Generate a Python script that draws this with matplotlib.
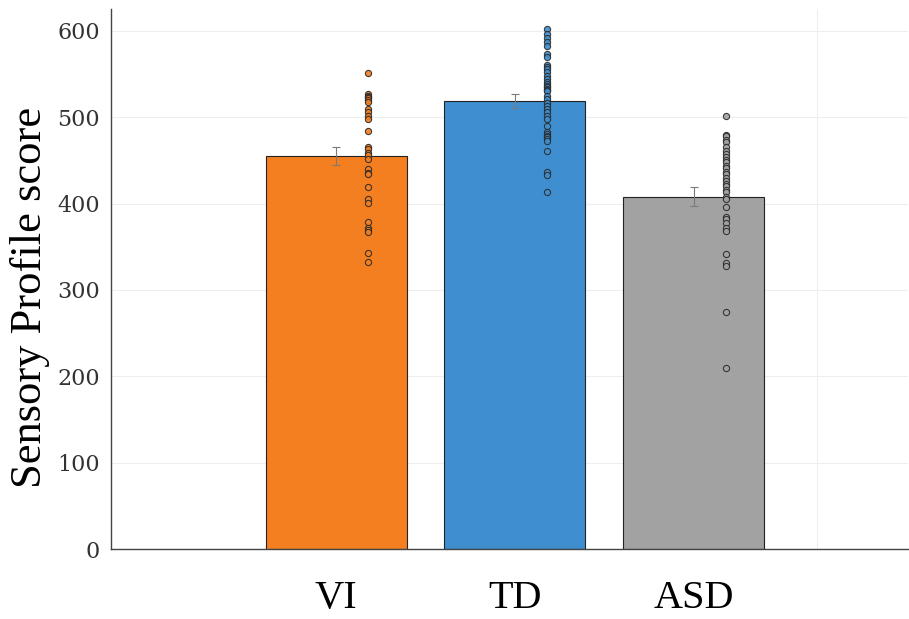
import numpy as np
import matplotlib
matplotlib.use('Agg')
from matplotlib import pyplot as plt

# Group names, bar means and standard errors.
GROUPS = ['VI', 'TD', 'ASD']
MEANS = [455, 519, 408]
SEMS = [10, 8, 11]
BAR_COLORS = ['#F47F20', '#3F8FD0', '#A2A2A2']

# Individual scores per group.
vi_scores = [551, 527, 525, 524, 522, 520, 518, 509, 506, 501, 498, 484,
             466, 463, 459, 456, 452, 440, 436, 434, 419, 405, 401, 379,
             372, 369, 367, 343, 332]
td_scores = [602, 596, 592, 587, 582, 573, 570, 561, 558, 556, 552, 548,
             544, 541, 538, 536, 535, 533, 531, 530, 525, 521, 517, 513,
             509, 506, 501, 498, 490, 483, 481, 478, 477, 475, 473, 461,
             437, 433, 414]
asd_scores = [501, 480, 478, 474, 471, 466, 461, 457, 454, 451, 448, 443,
              441, 437, 434, 430, 426, 423, 420, 416, 413, 408, 405, 396,
              385, 382, 378, 372, 368, 342, 331, 328, 275, 210]
ALL_SCORES = [vi_scores, td_scores, asd_scores]

plt.rcParams['font.family'] = ['Liberation Serif', 'DejaVu Serif']

fig = plt.figure(figsize=(9.09, 6.19), dpi=100)
ax = fig.add_axes([0.122, 0.113, 0.877, 0.872])

x_pos = np.arange(1, len(GROUPS) + 1)

ax.bar(x_pos, MEANS, width=0.79, color=BAR_COLORS, edgecolor='#222222',
       linewidth=0.8, zorder=2)
ax.errorbar(x_pos, MEANS, yerr=SEMS, fmt='none', ecolor='#7a7a7a',
            elinewidth=0.8, capsize=3, capthick=0.8, zorder=3)

for xp, scores, col in zip(x_pos, ALL_SCORES, BAR_COLORS):
    ax.scatter(np.full(len(scores), xp + 0.18), scores, s=20, color=col,
               edgecolor='#2a2a2a', linewidth=0.8, alpha=0.9, zorder=4)

ax.set_xlim(-0.26, 4.2)
ax.set_ylim(0, 625)

# faint grid
ax.set_yticks([0, 100, 200, 300, 400, 500, 600])
ax.grid(axis='y', color='#eeeeee', linewidth=0.8, zorder=0)
ax.axvline(3.69, color='#eeeeee', linewidth=0.8, zorder=0)

ax.set_xticks(x_pos)
ax.set_xticklabels(GROUPS, fontsize=29)
ax.tick_params(axis='x', length=0, pad=22)
ax.tick_params(axis='y', length=0, pad=8, labelsize=16, labelcolor='#333333')
for lbl in ax.get_yticklabels():
    lbl.set_fontfamily('DejaVu Serif')

ax.set_ylabel('Sensory Profile score', fontsize=32)
ax.yaxis.set_label_coords(-0.076, 0.467)

for side in ['top', 'right']:
    ax.spines[side].set_visible(False)
for side in ['left', 'bottom']:
    ax.spines[side].set_color('#444444')
    ax.spines[side].set_linewidth(1.0)

plt.savefig('out.png', dpi=100)
